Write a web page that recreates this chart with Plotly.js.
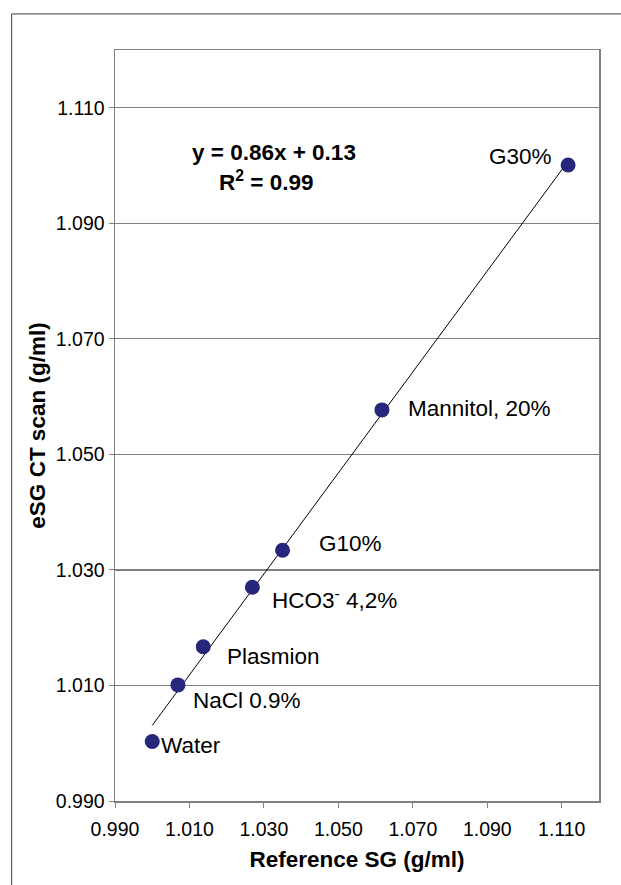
<!DOCTYPE html>
<html><head><meta charset="utf-8">
<script src="https://cdn.plot.ly/plotly-3.0.1.min.js"></script>
<style>html,body{margin:0;padding:0;background:#fff}#chart{width:621px;height:885px}</style>
</head><body><div id="chart"></div>
<script>
const labels = ["Water","NaCl 0.9%","Plasmion","HCO3<sup>-</sup> 4,2%","G10%","Mannitol, 20%","G30%"];
const refSG = [1.0000,1.0069,1.0137,1.0269,1.0350,1.0617,1.1117];
const ctSG  = [1.0003,1.0101,1.0167,1.0270,1.0334,1.0577,1.1001];
const tickVals = [0.990,1.010,1.030,1.050,1.070,1.090,1.110];
const tickText = ["0.990","1.010","1.030","1.050","1.070","1.090","1.110"];
const eqText = "y = 0.86x + 0.13";
const r2Text = "R<sup>2</sup> = 0.99";

// least squares trendline from the data
const n = refSG.length;
const mx = refSG.reduce((a,b)=>a+b,0)/n, my = ctSG.reduce((a,b)=>a+b,0)/n;
let sxy=0,sxx=0;
for(let i=0;i<n;i++){sxy+=(refSG[i]-mx)*(ctSG[i]-my);sxx+=(refSG[i]-mx)**2;}
const slope=sxy/sxx, icpt=my-slope*mx;
const xmin=Math.min(...refSG), xmax=Math.max(...refSG);
const trendX=[xmin,xmax], trendY=[slope*xmin+icpt, slope*xmax+icpt];

const offsets = [[7,-4],[13,-16],[22,-10],[18,-12],[34,7],[24,1],[-14,8]];
const anchors = ["left","left","left","left","left","left","right"];

const fam = "Liberation Sans, Arial, sans-serif";
const annotations = labels.map((t,i)=>({
  x:refSG[i], y:ctSG[i], xref:'x', yref:'y', text:t, showarrow:false,
  xanchor:anchors[i], yanchor:'middle', xshift:offsets[i][0], yshift:offsets[i][1],
  font:{family:fam,size:22.5,color:'#000'}
}));
annotations.push({xref:'paper',yref:'paper',x:0.329,y:0.864,text:"<b>"+eqText+"</b>",showarrow:false,xanchor:'center',yanchor:'middle',font:{family:fam,size:22.5,color:'#000'}});
annotations.push({xref:'paper',yref:'paper',x:0.311,y:0.826,text:"<b>"+r2Text+"</b>",showarrow:false,xanchor:'center',yanchor:'middle',font:{family:fam,size:22.5,color:'#000'}});

const data = [
  {x:trendX,y:trendY,mode:'lines',line:{color:'#000',width:1},hoverinfo:'skip',showlegend:false},
  {x:refSG,y:ctSG,mode:'markers',marker:{color:'#26267c',size:15},showlegend:false}
];
const layout = {
  width:621,height:885,
  margin:{l:114.5,r:22,t:50,b:84},
  paper_bgcolor:'#fff',plot_bgcolor:'#fff',
  showlegend:false,
  xaxis:{range:[0.990,1.120],tickvals:tickVals,ticktext:tickText,ticks:'outside',ticklen:5,tickcolor:'#808080',
    showgrid:false,zeroline:false,showline:true,linecolor:'#808080',linewidth:1.5,mirror:true,
    ticklabelstandoff:5,
    tickfont:{family:fam,size:19.5,color:'#000'},
    title:{text:"<b>Reference SG (g/ml)</b>",font:{family:fam,size:22.5,color:'#000'},standoff:12}},
  yaxis:{range:[0.990,1.120],tickvals:tickVals,ticktext:tickText,ticks:'outside',ticklen:5,tickcolor:'#808080',
    showgrid:true,gridcolor:'#808080',gridwidth:1.2,zeroline:false,showline:true,linecolor:'#808080',linewidth:1.5,mirror:true,
    tickfont:{family:fam,size:19.5,color:'#000'},
    title:{text:"<b>eSG CT scan (g/ml)</b>",font:{family:fam,size:22.5,color:'#000'},standoff:4}},
  annotations:annotations,
  shapes:[{type:'rect',xref:'paper',yref:'paper',x0:-0.2135,x1:1.2,y0:-0.3,y1:1.048,line:{color:'#404040',width:1}}]
};
Plotly.newPlot('chart',data,layout,{displayModeBar:false,staticPlot:true});
</script></body></html>
